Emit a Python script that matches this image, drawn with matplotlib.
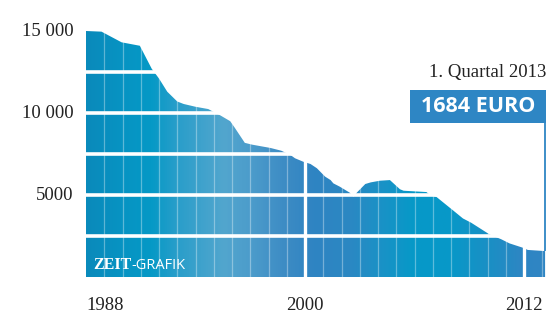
import numpy as np
import matplotlib
matplotlib.use('Agg')
import matplotlib.pyplot as plt
from matplotlib.colors import LinearSegmentedColormap
from matplotlib.patches import Polygon, Rectangle

# Werte (Euro)
jahre = [1988.0, 1988.85, 1989.95, 1990.95, 1991.6, 1992.0, 1992.45, 1993.0,
         1993.35, 1994.0, 1994.7, 1995.1, 1995.35, 1995.9, 1996.15, 1996.7,
         1997.1, 1998.1, 1998.7, 1999.2, 1999.45, 1999.9, 2000.3, 2000.65,
         2001.1, 2001.4, 2001.55, 2001.9, 2002.45, 2002.65, 2002.85, 2003.3,
         2003.6, 2004.1, 2004.65, 2005.2, 2005.4, 2006.65, 2006.85, 2007.2,
         2008.1, 2008.65, 2009.1, 2010.1, 2010.75, 2011.2, 2012.0, 2012.2,
         2013.15]
werte = [15000, 14960, 14310, 14100, 12700, 12100, 11300, 10700,
         10550, 10380, 10240, 10000, 9860, 9500, 9100, 8180,
         8070, 7870, 7700, 7440, 7240, 7030, 6890, 6630,
         6120, 5910, 5710, 5510, 5140, 4900, 5160, 5670,
         5770, 5870, 5910, 5350, 5260, 5180, 5000, 4880,
         4070, 3570, 3310, 2600, 2300, 2050, 1760, 1650,
         1580]

ytick_werte = [5000, 10000, 15000]
ytick_labels = ['5000', '10 000', '15 000']
xtick_jahre = [1988, 2000, 2012]
letzter_wert = '1684 EURO'
letzter_zeitpunkt = '1. Quartal 2013'

# Farbverlauf von links nach rechts
verlauf = [(1988, '#0a8abb'), (1990, '#0794c3'), (1991.5, '#0599c6'),
           (1993, '#2a9eca'), (1995.5, '#52a6ce'), (1997, '#4c9ccb'),
           (1999, '#3c8bc4'), (2000.5, '#2f84c2'), (2002.5, '#2b88c3'),
           (2004, '#1c91c6'), (2006, '#0699c8'), (2008, '#0898c8'),
           (2010, '#1990c5'), (2012, '#2e86c3'), (2013.2, '#3085c3')]

x0, x1 = 1988, 2013.2
y1 = 277 / 0.0164

fig = plt.figure(figsize=(5.46, 3.19), dpi=100)
ax = fig.add_axes([86 / 546, 42 / 319, 460 / 546, 277 / 319])
ax.set_xlim(x0, x1)
ax.set_ylim(0, y1)
ax.axis('off')

cmap = LinearSegmentedColormap.from_list(
    'zeit', [((j - x0) / (x1 - x0), c) for j, c in verlauf])
grad = np.linspace(0, 1, 500).reshape(1, -1)
im = ax.imshow(grad, cmap=cmap, aspect='auto', extent=[x0, x1, 0, y1],
               origin='lower', zorder=1)
pts = list(zip(jahre, werte)) + [(jahre[-1], 0), (jahre[0], 0)]
poly = Polygon(pts, closed=True, facecolor='none', edgecolor='none')
ax.add_patch(poly)
im.set_clip_path(poly)

# Raster
for j in range(1989, 2014):
    if j in (2000, 2012):
        ax.axvline(j, color='white', lw=2.4, zorder=3)
    else:
        ax.axvline(j, color='white', lw=0.9, alpha=0.35, zorder=2)
for h in [2500, 5000, 7500, 10000, 12500]:
    ax.axhline(h, color='white', lw=2.6, zorder=4)

# Achsenbeschriftung
serif = ['Liberation Serif', 'DejaVu Serif']
for v, lab in zip(ytick_werte, ytick_labels):
    ax.text(x0 - 0.7, v, lab, ha='right', va='center', fontsize=13.5,
            family=serif, color='#222222', clip_on=False, zorder=7)
for j in xtick_jahre:
    ax.text(j, -1750, str(j), ha='left' if j == 1988 else 'center',
            va='center', fontsize=13.5, family=serif, color='#222222',
            clip_on=False, zorder=7)

# Hervorhebung letzter Wert
box_blau = '#2e86c4'
ax.add_patch(Rectangle((x1 - 136 / 18.25, 9400), 136 / 18.25, 2030,
                       facecolor=box_blau, edgecolor='none', zorder=5,
                       clip_on=False))
ax.text(x1 - 68 / 18.25, 10415, letzter_wert, ha='center', va='center',
        fontsize=15.5, fontweight='bold', family=['Open Sans', 'DejaVu Sans'],
        color='white', zorder=6)
ax.text(x1, 12450, letzter_zeitpunkt, ha='right', va='center', fontsize=13.5,
        family=serif, color='#222222', zorder=7)
ax.plot([x1 - 0.06, x1 - 0.06], [9400, werte[-1]], color=box_blau, lw=1.3,
        zorder=6, solid_capstyle='butt', clip_on=False)

# Logo
ax.text(1988.4, 500, 'ZEIT', ha='left', va='baseline', fontsize=11.5,
        fontweight='bold', family=serif, color='white', zorder=6)
ax.text(1990.5, 500, '-GRAFIK', ha='left', va='baseline', fontsize=10.5,
        family=['Open Sans', 'DejaVu Sans'], color='white', zorder=6)

fig.savefig('out.png', dpi=100)
